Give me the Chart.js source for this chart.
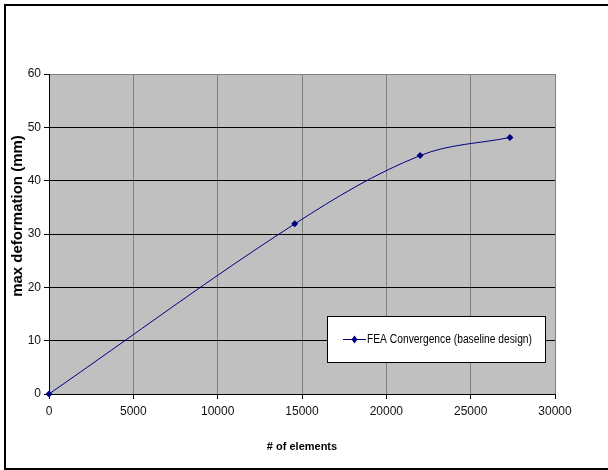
<!DOCTYPE html>
<html>
<head>
<meta charset="utf-8">
<script src="https://cdn.jsdelivr.net/npm/chart.js@4"></script>
<style>
  html, body { margin: 0; padding: 0; background: #fff; }
  #wrap { width: 608px; height: 470px; position: relative; }
</style>
</head>
<body>
<div id="wrap"><canvas id="c" width="608" height="470"></canvas></div>
<script>
// Mesh convergence study: element count vs. maximum deformation
const elementCounts = [0, 14570, 22000, 27330];
const maxDeformation = [0, 31.9, 44.7, 48.1];
const xTicks = [0, 5000, 10000, 15000, 20000, 25000, 30000];
const yTicks = [0, 10, 20, 30, 40, 50, 60];
const seriesName = 'FEA Convergence (baseline design)';
const yAxisTitle = 'max deformation (mm)';

const points = elementCounts.map((x, i) => ({ x: x, y: maxDeformation[i] }));
const SANS = '"Liberation Sans", Arial, sans-serif';

const frame = {
  id: 'frame',
  beforeDraw(chart) {
    const { ctx, chartArea: a } = chart;
    ctx.save();
    ctx.fillStyle = '#c0c0c0';
    ctx.fillRect(a.left, a.top, a.right - a.left, a.bottom - a.top);
    // outer frame
    ctx.fillStyle = '#000';
    ctx.fillRect(4, 4, 604, 2);
    ctx.fillRect(4, 4, 2, 466);
    ctx.fillRect(4, 468, 604, 2);
    ctx.restore();
  },
  afterDraw(chart) {
    const { ctx } = chart;
    ctx.save();
    // vertical axis title
    ctx.save();
    ctx.translate(18, 216);
    ctx.rotate(-Math.PI / 2);
    ctx.fillStyle = '#000';
    ctx.font = 'bold 15px ' + SANS;
    ctx.textAlign = 'center';
    ctx.textBaseline = 'middle';
    ctx.fillText(yAxisTitle, 0, 0);
    ctx.restore();
    // legend box
    const bx = 327.5, by = 316.5, bw = 218, bh = 46;
    ctx.fillStyle = '#fff';
    ctx.fillRect(bx, by, bw, bh);
    ctx.strokeStyle = '#000';
    ctx.lineWidth = 1;
    ctx.strokeRect(bx, by, bw, bh);
    const cy = 339.5;
    ctx.strokeStyle = '#000080';
    ctx.beginPath();
    ctx.moveTo(343, cy);
    ctx.lineTo(366, cy);
    ctx.stroke();
    ctx.fillStyle = '#000080';
    ctx.beginPath();
    ctx.moveTo(354.5, cy - 4);
    ctx.lineTo(357.5, cy);
    ctx.lineTo(354.5, cy + 4);
    ctx.lineTo(351.5, cy);
    ctx.closePath();
    ctx.fill();
    ctx.fillStyle = '#000';
    ctx.font = '12px ' + SANS;
    ctx.textBaseline = 'middle';
    ctx.textAlign = 'left';
    ctx.fillText(seriesName, 367, cy, 165);
    ctx.restore();
  }
};

new Chart(document.getElementById('c'), {
  type: 'scatter',
  data: {
    datasets: [{
      label: seriesName,
      data: points,
      showLine: true,
      tension: 0.35,
      borderColor: '#000080',
      borderWidth: 1,
      backgroundColor: '#000080',
      pointBackgroundColor: '#000080',
      pointBorderColor: '#000080',
      pointStyle: 'rectRot',
      pointRadius: 3.5,
      pointBorderWidth: 0,
      clip: false
    }]
  },
  options: {
    responsive: false,
    animation: false,
    events: [],
    layout: { padding: { left: 0, top: 74, right: 53, bottom: 0 } },
    plugins: {
      legend: { display: false },
      tooltip: { enabled: false }
    },
    scales: {
      x: {
        type: 'linear',
        min: 0,
        max: 30000,
        afterBuildTicks(scale) { scale.ticks = xTicks.map(v => ({ value: v })); },
        afterFit(scale) { scale.height = 76; },
        ticks: {
          color: '#111',
          padding: 5,
          maxRotation: 0,
          autoSkip: false,
          font: { family: SANS, size: 12 },
          callback: v => String(v)
        },
        grid: {
          color: ctx => (ctx.tick && ctx.tick.value === 0) ? '#000' : '#808080',
          tickColor: '#000',
          tickLength: 5,
          lineWidth: 1
        },
        border: { color: '#000', width: 1 },
        title: {
          display: true,
          text: '# of elements',
          color: '#000',
          font: { family: SANS, size: 11, weight: 'bold' },
          padding: { top: 0, bottom: 16 }
        }
      },
      y: {
        type: 'linear',
        min: 0,
        max: 60,
        afterBuildTicks(scale) { scale.ticks = yTicks.map(v => ({ value: v })); },
        afterFit(scale) { scale.width = 49; },
        ticks: {
          color: '#111',
          padding: 3,
          autoSkip: false,
          font: { family: SANS, size: 12 },
          callback: v => String(v)
        },
        grid: {
          color: ctx => (ctx.tick && ctx.tick.value === 60) ? '#808080' : '#000',
          tickColor: '#000',
          tickLength: 5,
          lineWidth: 1
        },
        border: { color: '#000', width: 1 },
        title: { display: false }
      }
    }
  },
  plugins: [frame]
});
</script>
</body>
</html>
